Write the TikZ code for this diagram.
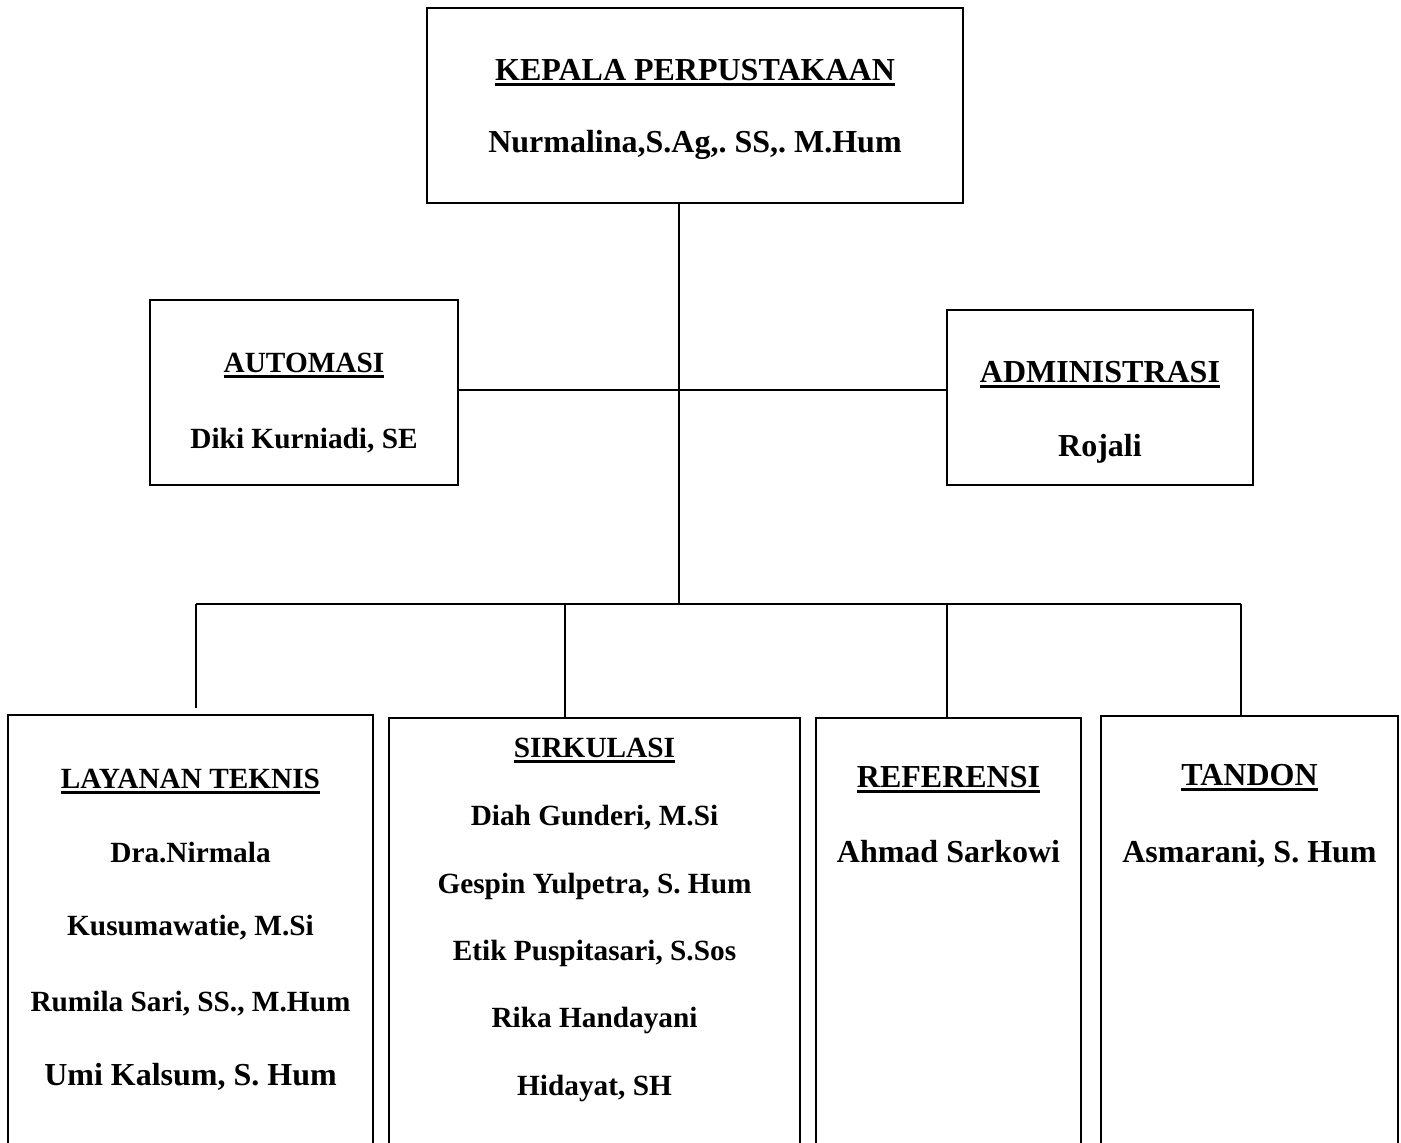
\documentclass[tikz,border=0pt]{standalone}
\usepackage{fontspec}
\setmainfont{Liberation Serif}
\usepackage{tikz}
\frenchspacing

% heading with a thick rule under it
\newcommand{\hdline}[1]{\setbox0\hbox{#1}\rlap{\rule[-6pt]{\wd0}{2.6pt}}\box0}

\tikzset{
  unit/.style={draw, line width=1.8pt, inner sep=0pt},
  big/.style={font=\fontsize{32}{38}\selectfont\bfseries, anchor=base, inner sep=0pt},
  small/.style={font=\fontsize{29.3}{35}\selectfont\bfseries, anchor=base, inner sep=0pt},
  link/.style={line width=1.8pt}
}

\begin{document}
\begin{tikzpicture}[x=1pt,y=-1pt]
	\useasboundingbox (0,0) rectangle (1401,1143);
	\clip (0,0) rectangle (1401,1143);
	% boxes
	\node[unit, minimum width=536pt, minimum height=195pt] (kepala) at (695,105.5) {};
	\node[unit, minimum width=308pt, minimum height=185pt] (automasi) at (304,392.5) {};
	\node[unit, minimum width=306pt, minimum height=175pt] (admin) at (1100,397.5) {};
	\node[unit, minimum width=365pt, minimum height=485pt] (layanan) at (190.5,957.5) {};
	\node[unit, minimum width=411pt, minimum height=482pt] (sirkulasi) at (594.5,959) {};
	\node[unit, minimum width=265pt, minimum height=482pt] (referensi) at (948.5,959) {};
	\node[unit, minimum width=297pt, minimum height=484pt] (tandon) at (1249.5,958) {};
	% lines
	\coordinate (mid) at (679,390);
	\coordinate (hub) at (679,604);
	\coordinate (b1) at (196,604);
	\coordinate (b2) at (565,604);
	\coordinate (b3) at (947,604);
	\coordinate (b4) at (1241,604);
	\draw[link] (kepala.south -| hub) -- (hub);
	\draw[link] (automasi.east |- mid) -- (admin.west |- mid);
	\draw[link] (b1) -- (b4);
	\draw[link, shorten >=6pt] (b1) -- (b1 |- layanan.north);
	\draw[link] (b2) -- (b2 |- sirkulasi.north);
	\draw[link] (b3) -- (b3 |- referensi.north);
	\draw[link] (b4) -- (b4 |- tandon.north);
	% texts
	\node[big] (kepalaJ) at (695,80) {\hdline{KEPALA PERPUSTAKAAN}};
	\node[big] (kepalaN) at (695,152) {Nurmalina,S.Ag,. SS,. M.Hum};
	\node[small] (automasiJ) at (304,372) {\hdline{AUTOMASI}};
	\node[small] (automasiN) at (304,448) {Diki Kurniadi, SE};
	\node[big] (adminJ) at (1100,382) {\hdline{ADMINISTRASI}};
	\node[big] (adminN) at (1100,456) {Rojali};
	\node[small] (layananJ) at (190.5,788) {\hdline{LAYANAN TEKNIS}};
	\node[small] (layananA) at (190.5,862) {Dra.Nirmala};
	\node[small] (layananB) at (190.5,935) {Kusumawatie, M.Si};
	\node[small] (layananC) at (190.5,1011) {Rumila Sari, SS., M.Hum};
	\node[big] (layananD) at (190.5,1085) {Umi Kalsum, S. Hum};
	\node[small] (sirkulasiJ) at (594.5,757) {\hdline{SIRKULASI}};
	\node[small] (sirkulasiA) at (594.5,825) {Diah Gunderi, M.Si};
	\node[small] (sirkulasiB) at (594.5,893) {Gespin Yulpetra, S. Hum};
	\node[small] (sirkulasiC) at (594.5,960) {Etik Puspitasari, S.Sos};
	\node[small] (sirkulasiD) at (594.5,1027) {Rika Handayani};
	\node[small] (sirkulasiE) at (594.5,1095) {Hidayat, SH};
	\node[big] (referensiJ) at (948.5,787) {\hdline{REFERENSI}};
	\node[big] (referensiN) at (948.5,862) {Ahmad Sarkowi};
	\node[big] (tandonJ) at (1249.5,785) {\hdline{TANDON}};
	\node[big] (tandonN) at (1249.5,862) {Asmarani, S. Hum};
\end{tikzpicture}
\end{document}
